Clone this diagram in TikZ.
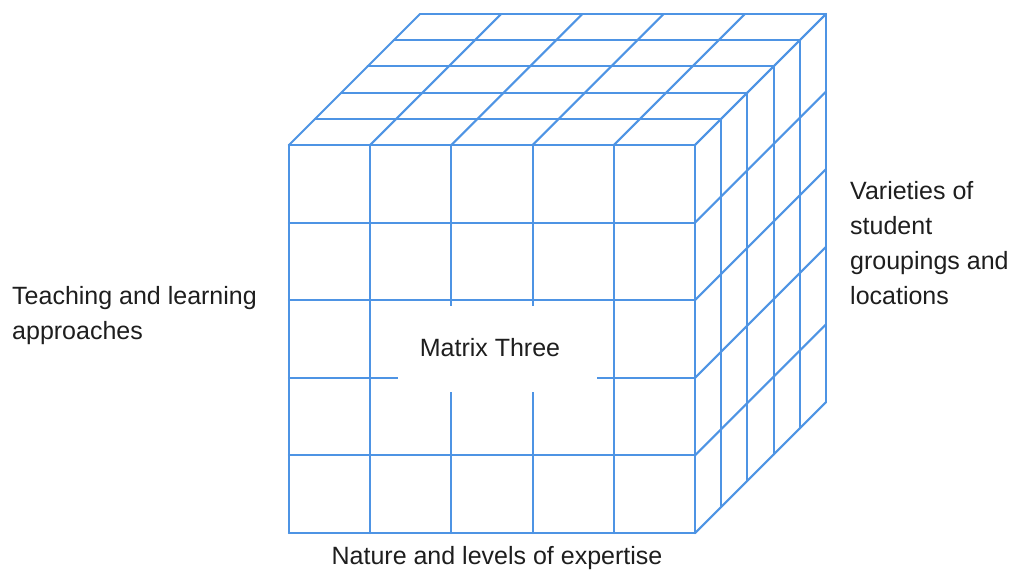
\documentclass[tikz,border=0pt]{standalone}
\usepackage{fontspec}
\setmainfont{Liberation Sans}
\definecolor{gridblue}{RGB}{78,148,228}
\definecolor{txt}{RGB}{30,30,30}
\begin{document}
\begin{tikzpicture}[x=1pt,y=-1pt,
  gridline/.style={draw=gridblue,line width=2.1pt,line cap=round,line join=round},
  lbl/.style={text=txt,font=\fontsize{25}{35}\selectfont,inner sep=0pt},
  gapbox/.style={fill=white,draw=none,minimum width=199pt,minimum height=86pt,inner sep=0pt}]
\useasboundingbox (0,0) rectangle (1010,574);
\fill[white] (0,0) rectangle (1010,574);
% parameters
\def\xa{289}\def\ya{145}\def\cw{81.2}\def\rh{77.6}\def\dd{26.2}
% front face
\foreach \i in {0,...,5}{
  \draw[gridline] ({\xa+\i*\cw},145) -- ({\xa+\i*\cw},533);
  \draw[gridline] (289,{\ya+\i*\rh}) -- (695,{\ya+\i*\rh});
}
% top face
\foreach \i in {0,...,5}{
  \draw[gridline] ({\xa+\i*\cw},145) -- ({\xa+\i*\cw+131},14);
  \draw[gridline] ({289+\i*\dd},{145-\i*\dd}) -- ({695+\i*\dd},{145-\i*\dd});
}
% right face
\foreach \i in {0,...,5}{
  \draw[gridline] ({695+\i*\dd},{145-\i*\dd}) -- ({695+\i*\dd},{533-\i*\dd});
  \draw[gridline] (695,{\ya+\i*\rh}) -- (826,{\ya+\i*\rh-131});
}
% gap behind the title
\node[gapbox] (gap) at (497.5,349) {};
\node[lbl] (title) at (490,348) {Matrix Three};
% labels
\node[lbl,anchor=west,align=left] (left) at (12,316) {Teaching and learning\\approaches};
\node[lbl,anchor=west,align=left] (right) at (850,243) {Varieties of\\student\\groupings and\\locations};
\node[lbl] (bottom) at (497,558) {Nature and levels of expertise};
\end{tikzpicture}
\end{document}
